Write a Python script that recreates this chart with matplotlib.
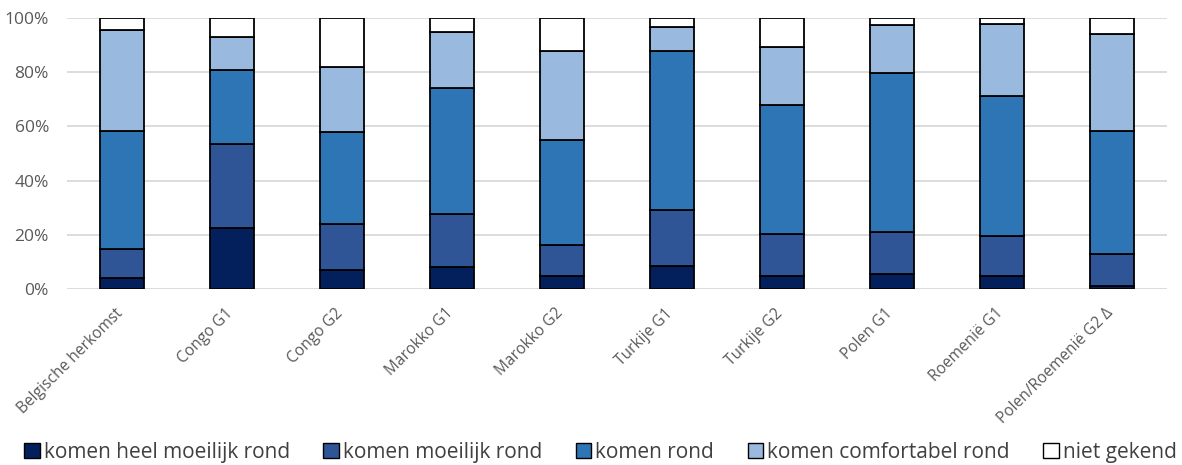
import matplotlib
matplotlib.use("Agg")
import matplotlib.pyplot as plt
import matplotlib.transforms as mtransforms
import numpy as np
from matplotlib.patches import Patch

categories = ["Belgische herkomst", "Congo G1", "Congo G2", "Marokko G1", "Marokko G2",
              "Turkije G1", "Turkije G2", "Polen G1", "Roemenië G1", "Polen/Roemenië G2 Δ"]
series_names = ["komen heel moeilijk rond", "komen moeilijk rond", "komen rond",
                "komen comfortabel rond", "niet gekend"]
heel_moeilijk = [3.9, 22.4, 6.9, 8.1, 4.8, 8.6, 4.8, 5.4, 4.9, 1.0]
moeilijk      = [10.9, 31.3, 17.2, 19.6, 11.5, 20.7, 15.6, 15.6, 14.6, 12.1]
rond          = [43.7, 27.0, 33.9, 46.4, 38.6, 58.7, 47.7, 58.6, 51.7, 45.2]
comfortabel   = [37.0, 12.2, 24.0, 20.6, 33.1, 8.8, 21.3, 17.8, 26.6, 35.7]
niet_gekend   = [4.5, 7.1, 18.0, 5.3, 12.0, 3.2, 10.6, 2.6, 2.2, 6.0]
series = [heel_moeilijk, moeilijk, rond, comfortabel, niet_gekend]
colors = ["#03205C", "#2F5597", "#2E75B6", "#9AB9DF", "#FFFFFF"]
yticks = [0, 20, 40, 60, 80, 100]
ytick_labels = ["0%", "20%", "40%", "60%", "80%", "100%"]

plt.rcParams['font.family'] = ['Open Sans', 'DejaVu Sans']
fig = plt.figure(figsize=(11.82, 4.65), dpi=100)
ax = fig.add_axes([0.0567, 0.3785, 0.9303, 0.5825])

x = np.arange(len(categories))
bottom = np.zeros(len(categories))
for vals, col, name in zip(series, colors, series_names):
    v = np.array(vals)
    ax.bar(x, v, bottom=bottom, width=0.4, color=col, edgecolor="black",
           linewidth=1.3, label=name, zorder=3)
    bottom += v

ax.set_xlim(-0.5, len(categories) - 0.5)
ax.set_ylim(0, 100)
ax.set_yticks(yticks)
ax.set_yticklabels(ytick_labels, fontsize=12.5, color="#595959")
ax.set_xticks(x)
ax.set_xticklabels(categories, rotation=45, ha="right", rotation_mode="anchor",
                   fontsize=11.2, color="#595959")
ax.tick_params(axis="x", length=0, pad=6)
ax.tick_params(axis="y", length=0, pad=13)
offset = mtransforms.ScaledTranslation(-7 / 100, -8 / 100, fig.dpi_scale_trans)
for lbl in ax.get_xticklabels():
    lbl.set_transform(lbl.get_transform() + offset)
ax.yaxis.grid(True, color="#D9D9D9", linewidth=1.3, zorder=0)
for s in ax.spines.values():
    s.set_visible(False)

handles = [Patch(facecolor=c, edgecolor="black", linewidth=1.0) for c in colors]
fig.legend(handles, series_names, loc="center", bbox_to_anchor=(0.508, 0.027),
           ncol=5, frameon=False, fontsize=15, handlelength=0.75, handleheight=0.75,
           handletextpad=0.2, columnspacing=1.6, labelcolor="#404040")

fig.savefig("out.png", dpi=100)
